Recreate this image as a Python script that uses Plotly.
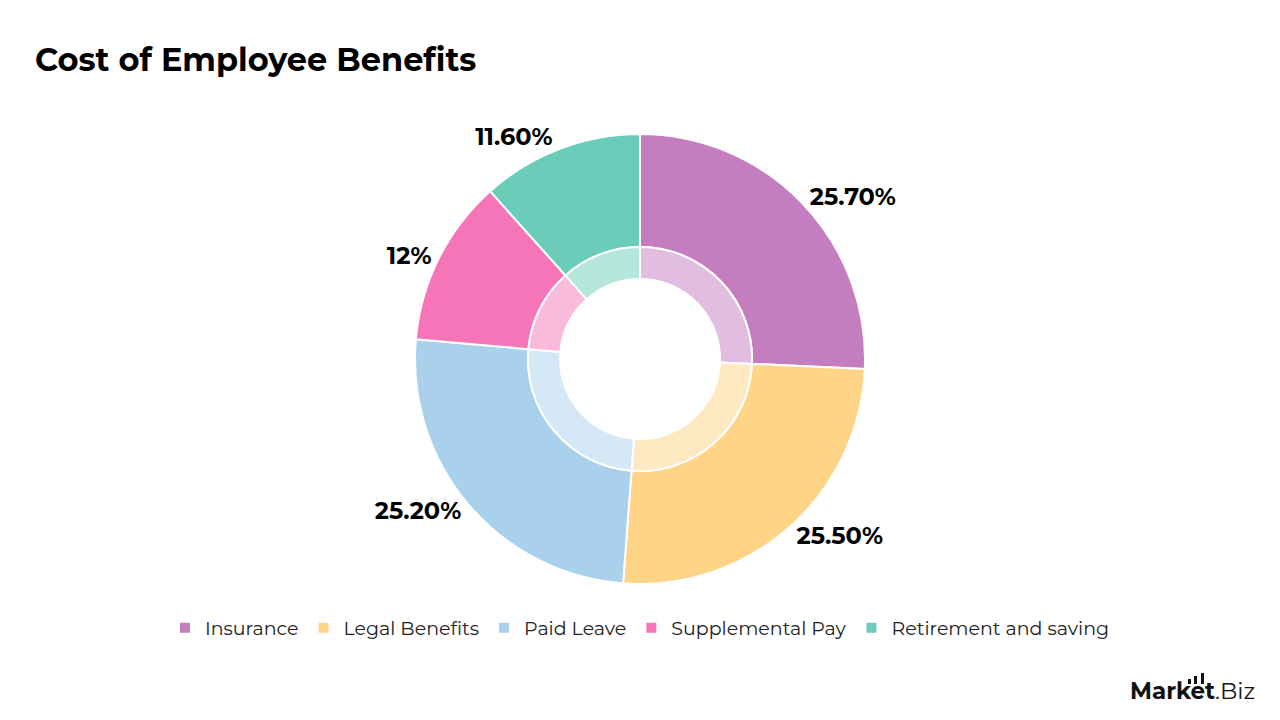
import plotly.graph_objects as go

categories = ["Insurance", "Legal Benefits", "Paid Leave", "Supplemental Pay", "Retirement and saving"]
values = [25.7, 25.5, 25.2, 12.0, 11.6]
value_labels = ["25.70%", "25.50%", "25.20%", "12%", "11.60%"]
colors = ["#C47EBF", "#FFD486", "#AAD1EB", "#F575B8", "#6BCDB9"]
light_colors = ["rgba(196,126,191,0.5)", "rgba(255,212,134,0.5)", "rgba(170,209,235,0.5)",
                "rgba(245,117,184,0.5)", "rgba(107,205,185,0.5)"]

W, H = 1280, 720
cx, cy = 640, 359
R_out, R_mid, R_in = 225, 112, 80
FONT = "Montserrat, Inter, sans-serif"

def dom(r):
    return dict(x=[(cx - r) / W, (cx + r) / W], y=[(H - cy - r) / H, (H - cy + r) / H])

fig = go.Figure()
fig.add_trace(go.Pie(
    labels=categories, values=values, text=value_labels,
    texttemplate="%{text}", textposition="outside",
    textfont=dict(family=FONT, size=24, color="#000000", weight="bold"),
    marker=dict(colors=colors, line=dict(color="white", width=2)),
    hole=R_mid / R_out, sort=False, direction="clockwise", rotation=0,
    domain=dom(R_out), hoverinfo="label+percent", showlegend=True,
))
fig.add_trace(go.Pie(
    labels=categories, values=values,
    textinfo="none",
    marker=dict(colors=light_colors, line=dict(color="white", width=2)),
    hole=R_in / R_mid, sort=False, direction="clockwise", rotation=0,
    domain=dom(R_mid), hoverinfo="skip", showlegend=False,
))

fig.add_annotation(text="<b>Cost of Employee Benefits</b>", xref="paper", yref="paper",
                   x=33 / W, y=(H - 59) / H, xanchor="left", yanchor="middle", showarrow=False,
                   font=dict(family=FONT, size=32, color="#000000"))
fig.add_annotation(text="<b>Market</b>.Biz", xref="paper", yref="paper",
                   x=1257 / W, y=(H - 691) / H, xanchor="right", yanchor="middle", showarrow=False,
                   font=dict(family=FONT, size=23, color="#111111"))

# logo bar glyph (decorative)
logo_bars = [(1188, 1191, 679), (1194, 1197, 676), (1201, 1204, 673)]
for x0, x1, top in logo_bars:
    fig.add_shape(type="rect", xref="paper", yref="paper",
                  x0=x0 / W, x1=x1 / W, y0=(H - 684) / H, y1=(H - top) / H,
                  line=dict(width=0), fillcolor="#111111")

fig.update_layout(
    width=W, height=H, margin=dict(l=0, r=0, t=0, b=0),
    paper_bgcolor="white", plot_bgcolor="white",
    legend=dict(orientation="h", x=0.5, xanchor="center", y=(H - 628) / H, yanchor="middle",
                font=dict(family=FONT, size=19, color="#222222"),
                itemclick=False),
)
fig.write_html("out.html")
